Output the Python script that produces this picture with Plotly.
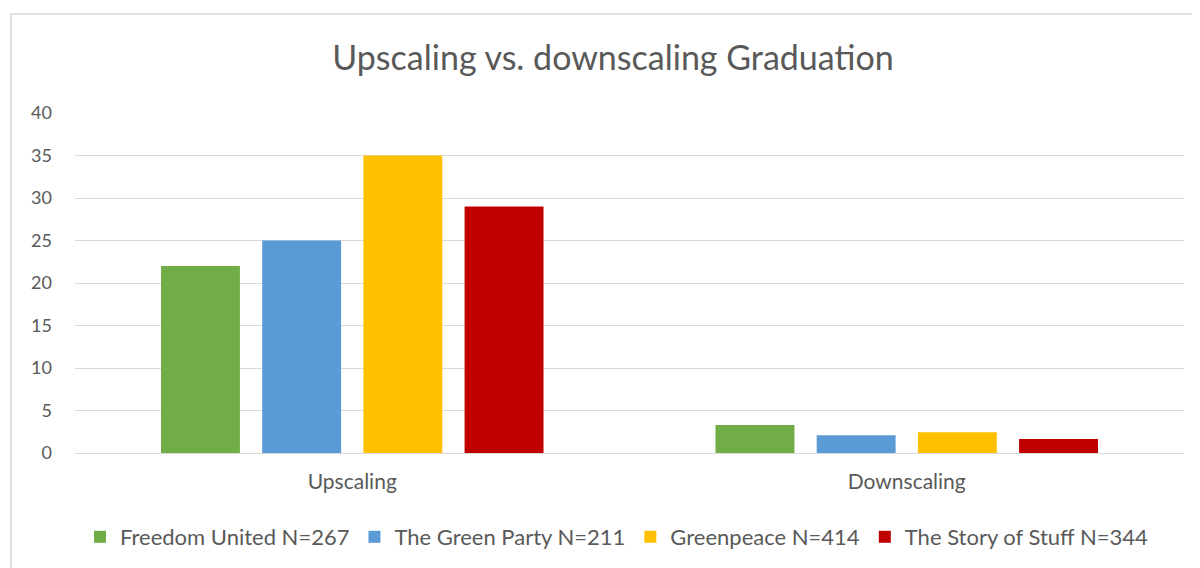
import plotly.graph_objects as go

# Data
categories = ["Upscaling", "Downscaling"]
series_names = [
    "Freedom United N=267",
    "The Green Party N=211",
    "Greenpeace N=414",
    "The Story of Stuff N=344",
]
freedom_united = [22, 3.3]
green_party = [25, 2.1]
greenpeace = [35, 2.45]
story_of_stuff = [29, 1.65]
y_ticks = [0, 5, 10, 15, 20, 25, 30, 35, 40]

colors = ["#70ad47", "#5b9bd5", "#ffc000", "#c00000"]
values = [freedom_united, green_party, greenpeace, story_of_stuff]

font_family = "Lato, 'Open Sans', sans-serif"
text_color = "#595959"

fig = go.Figure()
for name, vals, col in zip(series_names, values, colors):
    fig.add_trace(go.Bar(x=categories, y=vals, name=name, marker=dict(color=col, line=dict(width=0))))

# page body has an 8px margin, so figure coords are screen coords minus 8
OFF = 8
W, H = 1200, 568
L, T = 75 - OFF, 113 - OFF
R = W - (1184 - OFF)
B = H - (453 - OFF)
pw, ph = W - L - R, H - T - B


def px_x(x):
    return (x - OFF - L) / pw


def px_y(y):
    return (T + ph - (y - OFF)) / ph


fig.update_layout(
    width=W, height=H,
    margin=dict(l=L, r=R, t=T, b=B),
    paper_bgcolor="white",
    plot_bgcolor="white",
    barmode="group",
    bargap=0.27,
    bargroupgap=0.22,
    title=dict(
        text="Upscaling vs. downscaling Graduation",
        x=px_x(613), xanchor="center", xref="paper",
        y=1 - (58 - OFF) / H, yanchor="middle",
        font=dict(family=font_family, size=34, color=text_color),
    ),
    font=dict(family=font_family, color=text_color, size=18),
    xaxis=dict(
        showgrid=False, showline=False, zeroline=False,
        tickfont=dict(size=21, color=text_color),
        ticks="", ticklabelstandoff=14,
    ),
    yaxis=dict(
        range=[0, 40], tickvals=y_ticks,
        showgrid=True, gridcolor="#d9d9d9", gridwidth=1,
        zeroline=True, zerolinecolor="#d9d9d9", zerolinewidth=1,
        showline=False, ticks="", ticklabelstandoff=22,
        tickfont=dict(size=18, color=text_color),
    ),
    legend=dict(
        orientation="h", x=px_x(617), xanchor="center",
        y=px_y(537), yanchor="middle",
        font=dict(size=22, color=text_color),
        itemwidth=30,
    ),
    shapes=[
        dict(
            type="path", xref="paper", yref="paper",
            path=(
                f"M {px_x(11)},{px_y(575)} "
                f"L {px_x(11)},{px_y(14)} "
                f"L {px_x(1199)},{px_y(14)}"
            ),
            line=dict(color="#d9d9d9", width=1.5),
        )
    ],
)

fig.write_html("out.html")
